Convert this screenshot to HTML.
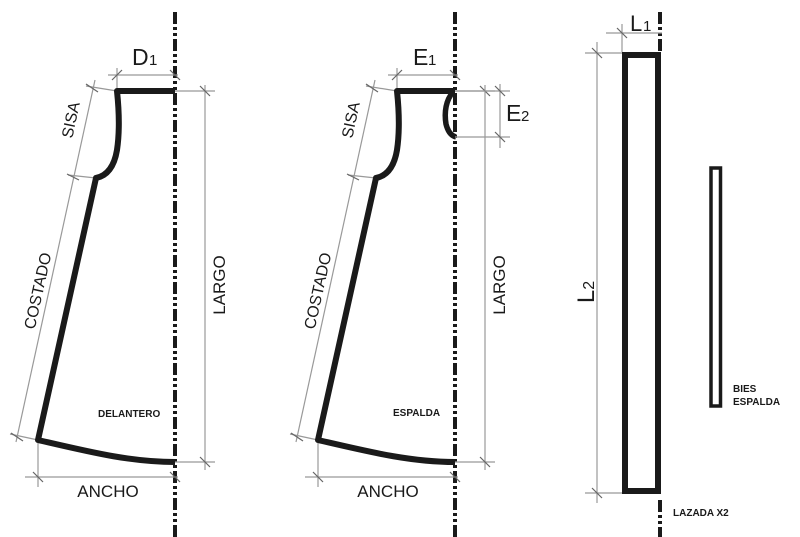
<!DOCTYPE html>
<html><head><meta charset="utf-8"><style>
html,body{margin:0;padding:0;background:#fff;width:800px;height:537px;overflow:hidden}
svg{display:block}
text{font-family:"Liberation Sans",sans-serif;fill:#1a1a1a}
</style></head><body>
<svg width="800" height="537" viewBox="0 0 800 537" xmlns="http://www.w3.org/2000/svg">
<defs>
<g id="piece">
  <line x1="175" y1="12" x2="175" y2="537" stroke="#1a1a1a" stroke-width="4" stroke-dasharray="12 3 3 3 3 3"/>
  <g stroke="#999" stroke-width="1.2" fill="none">
    <line x1="108" y1="75" x2="178" y2="75"/>
    <line x1="117" y1="68" x2="117" y2="91"/>
    <line x1="95" y1="80" x2="16" y2="442"/>
    <line x1="117" y1="91" x2="86" y2="86"/>
    <line x1="96" y1="178" x2="68" y2="175"/>
    <line x1="38" y1="440" x2="10" y2="434"/>
    <line x1="205" y1="85" x2="205" y2="470"/>
    <line x1="175" y1="91" x2="215" y2="91"/>
    <line x1="175" y1="462" x2="215" y2="462"/>
    <line x1="25" y1="477" x2="178" y2="477"/>
    <line x1="38" y1="440" x2="38" y2="487"/>
  </g>
  <g stroke="#666" stroke-width="1.2">
    <line x1="112" y1="80" x2="122" y2="70"/>
    <line x1="170" y1="70" x2="180" y2="80"/>
    <line x1="86" y1="84" x2="98" y2="92"/>
    <line x1="67" y1="174" x2="79" y2="180"/>
    <line x1="11" y1="433" x2="23" y2="441"/>
    <line x1="200" y1="86" x2="210" y2="96"/>
    <line x1="200" y1="457" x2="210" y2="467"/>
    <line x1="33" y1="472" x2="43" y2="482"/>
    <line x1="170" y1="472" x2="180" y2="482"/>
  </g>
  <path d="M175 91 L117 91 C119 110 120 130 117 150 C114 168 106 176 96 178 L38 440 C90 452 130 462 175 462" fill="none" stroke="#1a1a1a" stroke-width="6" stroke-linejoin="round"/>
  <text x="0" y="0" font-size="16" text-anchor="middle" transform="translate(76,121) rotate(-78)">SISA</text>
  <text x="0" y="0" font-size="16" text-anchor="middle" transform="translate(43,292) rotate(-77.5)">COSTADO</text>
  <text x="0" y="0" font-size="17" text-anchor="middle" transform="translate(225,285) rotate(-90)">LARGO</text>
  <text x="108" y="497" font-size="17" text-anchor="middle">ANCHO</text>
</g>
</defs>

<use href="#piece"/>
<text x="132" y="65" font-size="23">D</text><text x="149" y="65" font-size="15">1</text>
<text x="98" y="417" font-size="10" font-weight="bold">DELANTERO</text>

<use href="#piece" transform="translate(280,0)"/>
<text x="413" y="65" font-size="23">E</text><text x="428" y="65" font-size="15">1</text>
<text x="393" y="416" font-size="10" font-weight="bold">ESPALDA</text>
<path d="M453 92 C446 100 444 112 446 124 C448 132 452 136 456 137" fill="none" stroke="#1a1a1a" stroke-width="5.5"/>
<g stroke="#999" stroke-width="1.2">
  <line x1="500" y1="84" x2="500" y2="148"/>
  <line x1="455" y1="137" x2="510" y2="137"/>
  <line x1="455" y1="91" x2="510" y2="91"/>
</g>
<g stroke="#666" stroke-width="1.2">
  <line x1="495" y1="86" x2="505" y2="96"/>
  <line x1="495" y1="132" x2="505" y2="142"/>
</g>
<text x="506" y="121" font-size="23">E</text><text x="521" y="121" font-size="15">2</text>

<line x1="660" y1="12" x2="660" y2="52" stroke="#1a1a1a" stroke-width="4" stroke-dasharray="12 3 3 3 3 3"/>
<line x1="660" y1="500" x2="660" y2="537" stroke="#1a1a1a" stroke-width="4" stroke-dasharray="12 3 3 3 3 3"/>
<g stroke="#999" stroke-width="1.2">
  <line x1="606" y1="33" x2="662" y2="33"/>
  <line x1="622" y1="24" x2="622" y2="52"/>
  <line x1="597" y1="42" x2="597" y2="503"/>
  <line x1="585" y1="53" x2="622" y2="53"/>
  <line x1="585" y1="493" x2="622" y2="493"/>
</g>
<g stroke="#666" stroke-width="1.2">
  <line x1="617" y1="28" x2="627" y2="38"/>
  <line x1="592" y1="48" x2="602" y2="58"/>
  <line x1="592" y1="488" x2="602" y2="498"/>
</g>
<text x="630" y="31" font-size="22">L</text><text x="643" y="31" font-size="15">1</text>
<text x="0" y="0" font-size="24" text-anchor="middle" transform="translate(594,292) rotate(-90)">L<tspan font-size="16">2</tspan></text>
<rect x="625" y="55" width="33" height="436" fill="none" stroke="#1a1a1a" stroke-width="6"/>
<text x="673" y="516" font-size="10" font-weight="bold">LAZADA X2</text>

<rect x="711" y="168" width="9.5" height="238" fill="none" stroke="#1a1a1a" stroke-width="3.5"/>
<text x="733" y="392" font-size="10" font-weight="bold">BIES</text>
<text x="733" y="405" font-size="10" font-weight="bold">ESPALDA</text>
</svg>
</body></html>
